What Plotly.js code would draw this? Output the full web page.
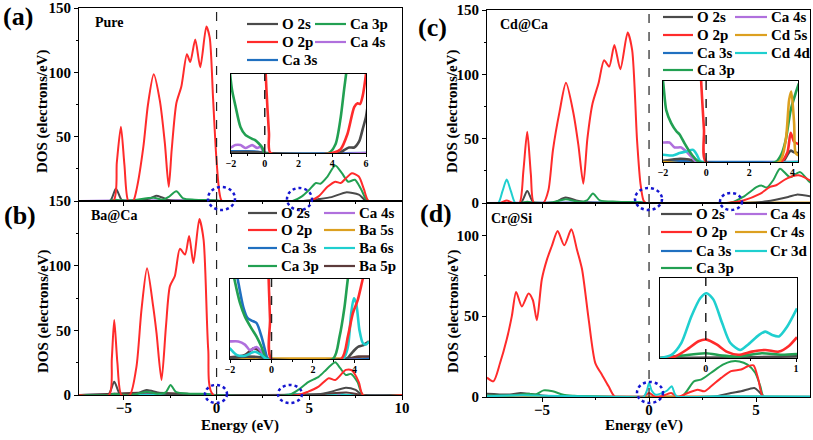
<!DOCTYPE html>
<html><head><meta charset="utf-8">
<script src="https://cdn.plot.ly/plotly-3.0.1.min.js"></script>
<style>html,body{margin:0;padding:0;background:#fff}#g{width:813px;height:440px}</style>
</head><body><div id="g"></div>
<script>
// ---------------- DATA ----------------
// Panel (a) Pure, main
const aE_O2p = [-7.42,-5.57,-5.38,-5.16,-4.97,-4.76,-4.5,-4.3,-3.95,-3.7,-3.39,-3.06,-2.79,-2.58,-2.42,-2.17,-1.9,-1.6,-1.42,-1.15,-0.88,-0.55,-0.37,-0.19,-0.02,0.16,0.3,5.0,5.5,5.98,6.4,6.7,7.0,7.3,7.67,7.95,8.2,10];
const aD_O2p = [0,0,30,57.7,28,0,0,10,42,75,98.5,78,45,11,40,76,89,114,108,125.5,104,135.6,127,80,35,6,0,0,3.6,11,15,14,18,21.6,19,9,0,0];
const aE_Ca3p = [-7.42,-5.8,-5.5,-5.2,-4.6,-3.4,-2.9,-2.6,-2.17,-1.8,-1.2,0,0.3,4.1,4.6,5.0,5.36,5.6,5.98,6.4,6.76,7.1,7.46,7.8,8.15,10];
const aD_Ca3p = [0,0,1,0.5,0.5,2.5,1,3,7.5,2,1,0.5,0,0,3.6,8.8,14,13.4,19,27.6,21.6,15,16.5,9,0,0];
const aE_O2s = [-7.42,-5.75,-5.43,-5.1,-4.6,-3.6,-3.26,-2.9,-2.5,0,4.5,5.5,6.2,6.97,7.67,8.1,10];
const aD_O2s = [0,0,9.5,0.5,0,2,4,2.5,0.5,0,0,1.5,3,6.7,5,0,0];
const aE_Ca4s = [-7.42,-5.5,-2,-1.5,-0.8,-0.3,0,10];
const aD_Ca4s = [0,0.3,0.5,0.7,0.5,0.4,0,0];
const aE_Ca3s = [-7.42,-2,-0.5,0,10];
const aD_Ca3s = [0,0.2,0.2,0,0];
// Panel (a) inset
const iaE_Ca3p = [-2.2,-1.94,-1.74,-1.44,-1.15,-0.75,-0.55,-0.35,-0.15,0,3.8,4.2,4.5,4.7,4.85,5.0];
const iaD_Ca3p = [1.3,0.8,0.6,0.33,0.23,0.18,0.16,0.12,0.07,0,0,0.115,0.45,0.8,1.05,1.4];
const iaE_Ca4s = [-2.1,-2,-1.74,-1.44,-1.15,-0.75,-0.45,-0.25,0,6.1];
const iaD_Ca4s = [0.07,0.07,0.1,0.1,0.064,0.1,0.064,0.08,0,0];
const iaE_O2p = [-0.3,-0.1,0.0,0.1,0.25,0.34,4.0,4.5,4.9,5.3,5.5,5.65,5.8,6.0,6.1];
const iaD_O2p = [3,1.8,1.3,0.8,0.25,0,0,0.05,0.24,0.58,0.63,0.62,0.72,1.0,1.2];
const iaE_O2s = [-2.1,-0.5,0,4.4,4.8,5.0,5.3,5.6,5.8,6.0,6.1];
const iaD_O2s = [0.01,0.01,0,0,0.05,0.07,0.07,0.15,0.3,0.46,0.6];
const iaE_Ca3s = [-2.1,-1,-0.4,0,6.1];
const iaD_Ca3s = [0.02,0.02,0.015,0,0];

// Panel (b) Ba@Ca, main
const bE_O2p = [-7.42,-5.8,-5.65,-5.52,-5.35,-5.13,-4.68,-4.32,-4.05,-3.75,-3.42,-3.24,-2.97,-2.73,-2.52,-2.25,-1.98,-1.7,-1.48,-1.25,-0.93,-0.7,-0.45,-0.18,4.4,4.94,5.5,6.05,6.4,6.97,7.3,7.67,7.9,10];
const bD_O2p = [0,0,28,58,25,0,0,22,66,98,68.5,48,11.6,53,84,92,113,108.6,123,102,136,120,35,0,0,2.6,6.5,13,11.6,19.4,19,10,0,0];
const bE_Ca3p = [-7.42,-5.8,-5.52,-5.2,-4.5,-3.77,-3.2,-2.75,-2.48,-2.2,-1.5,-0.5,-0.2,3.9,4.4,4.94,5.5,5.9,6.15,6.4,6.67,6.97,7.24,7.6,7.9,10];
const bD_Ca3p = [0,0,1,0.3,0.3,2.5,1,2,7.8,2.5,1,0.8,0,0,3.9,10,14,19.4,22.8,25.3,20.7,15.5,16.3,10,0,0];
const bE_O2s = [-7.42,-5.85,-5.52,-5.2,-4.5,-3.77,-3.2,-2.5,0,4.6,5.5,6.2,6.97,7.5,7.85,10];
const bD_O2s = [0,0,10.3,0.5,0,3.9,2,0.5,0,0,0.5,2.6,5.7,3.9,0,0];
const bE_Ba5p = [-7.42,-5.52,-3.8,-1,0,5.5,7,7.9,10];
const bD_Ba5p = [0,1,2,0.5,0,0.5,2,0,0];
const bE_Ba6s = [-7.42,-1.5,-0.5,0,3.5,4.2,4.8,6.3,6.6,6.9,10];
const bD_Ba6s = [0,0.3,0.5,0,0,0.8,0.3,0.4,1.5,0.3,0];
const bE_Ca4s = [-7.42,-2,-1,-0.3,0,10];
const bD_Ca4s = [0,0.5,0.6,0.3,0,0];
const bE_Ca3s = [-7.42,-2,-1,-0.3,0,10];
const bD_Ca3s = [0,0.8,0.7,0.3,0,0];
const bE_Ba5s = [-7.42,10];
const bD_Ba5s = [0,0];
// Panel (b) inset
const ibE_Ca3p = [-2.1,-1.79,-1.52,-1.28,-0.96,-0.72,-0.48,-0.29,-0.19,2.96,3.28,3.52,3.68,3.84];
const ibD_Ca3p = [1.4,1.0,0.7,0.53,0.38,0.28,0.15,0.02,0,0,0.28,0.65,1.0,1.25];
const ibE_Ca3s = [-2.1,-1.63,-1.36,-1.15,-0.96,-0.72,-0.48,-0.29,-0.16,4.7];
const ibD_Ca3s = [1.6,1.0,0.65,0.51,0.48,0.45,0.28,0.09,0,0];
const ibE_Ca4s = [-2.1,-2,-1.6,-1.28,-1.04,-0.72,-0.48,-0.24,4.7];
const ibD_Ca4s = [0.22,0.22,0.22,0.18,0.11,0.15,0.09,0,0];
const ibE_Ba6s = [-2.1,-2,-1.68,-1.28,-0.8,-0.48,-0.24,3.44,3.68,3.84,3.97,4.08,4.24,4.4,4.56,4.7];
const ibD_Ba6s = [0.15,0.13,0.05,0.04,0.09,0.05,0,0,0.15,0.57,0.76,0.7,0.36,0.2,0.18,0.22];
const ibE_Ba5p = [-2.1,-2,-1.28,-0.88,-0.64,-0.32,3.6,4.2,4.7];
const ibD_Ba5p = [0.02,0.02,0.05,0.13,0.11,0,0,0.03,0.03];
const ibE_O2s = [-2.1,-1.2,-0.5,-0.2,3.6,3.92,4.16,4.4,4.7];
const ibD_O2s = [0.01,0.03,0.02,0,0,0.09,0.15,0.17,0.22];
const ibE_O2p = [-0.3,-0.15,-0.07,0,3.36,3.68,3.92,4.16,4.4,4.56];
const ibD_O2p = [3,1.1,0.5,0,0,0.28,0.57,0.74,1.0,1.15];
const ibE_Ba5s = [-2.1,4.7];
const ibD_Ba5s = [0.005,0.005];

// Panel (c) Cd@Ca, main
const cE_O2p = [-7.57,-6.95,-6.65,-6.35,-6.05,-5.87,-5.69,-5.52,-5.38,-4.94,-4.7,-4.49,-4.18,-3.88,-3.53,-3.3,-3.07,-2.88,-2.64,-2.36,-2.1,-1.86,-1.62,-1.34,-1.0,-0.79,-0.56,-0.4,-0.26,-0.15,3.6,4.4,5.18,5.65,5.96,6.43,6.98,7.37,7.7];
const cD_O2p = [0,0,2,0,0,25,55.3,22,0,0,10,41,71,93.4,69.6,45,15,50,77.3,93,111,106,122.8,104,132.6,119,48.8,15,2,0,0,2,7,12.5,14,19,21.5,19,15.6];
const cE_Ca3p = [-7.57,-6.0,-5.69,-5.4,-4.5,-3.9,-3.3,-2.9,-2.62,-2.3,-1.5,-0.4,-0.1,3.79,4.4,5.04,5.27,5.5,5.8,6.12,6.59,7.06,7.5,7.7];
const cD_Ca3p = [0,0,1,0.3,0.5,3,1,2,7.3,2,1,0.5,0,0,4.7,12.5,13.5,12,17.7,26.7,20,24,16.3,15];
const cE_O2s = [-7.57,-6.0,-5.69,-5.4,-4.5,-3.9,-3.4,-2.8,0,4.5,5.5,6.5,6.9,7.7];
const cD_O2s = [0,0,9.3,0.5,0,4.2,2,0.3,0,0,1.3,4.7,6.5,4.7];
const cE_Cd4d = [-7.57,-7.05,-6.85,-6.65,-6.45,-6.25,-6.0,-1.2,-0.6,0,7.7];
const cD_Cd4d = [0,0,9,18.2,9,0,0,0.4,0.8,0,0];
const cE_Ca4s = [-7.57,-2,-1,-0.4,0,7.7];
const cD_Ca4s = [0,0.6,0.6,0.3,0,0];
const cE_Cd5s = [-7.57,3.7,4.0,4.5,7.7];
const cD_Cd5s = [0,0,0.9,0.4,0.5];
const cE_Ca3s = [-7.57,-1,0,7.7];
const cD_Ca3s = [0,0.2,0,0];
// Panel (c) inset
const icE_Ca3p = [-2.2,-2.0,-1.85,-1.62,-1.38,-1.23,-1.0,-0.77,-0.54,-0.31,3.23,3.5,3.69,3.92,4.15,4.3];
const icD_Ca3p = [1.3,1.0,0.64,0.48,0.38,0.34,0.23,0.13,0.05,0,0,0.1,0.27,0.64,0.85,0.97];
const icE_Ca4s = [-2.1,-2,-1.7,-1.46,-1.15,-0.92,-0.7,-0.43,4.3];
const icD_Ca4s = [0.24,0.24,0.24,0.18,0.18,0.13,0.07,0,0];
const icE_Cd4d = [-2.1,-2,-1.54,-1.23,-0.92,-0.6,-0.43,-0.23,4.3];
const icD_Cd4d = [0.09,0.09,0.08,0.11,0.13,0.15,0.09,0,0];
const icE_O2s = [-2.1,-1.2,-0.8,-0.4,3.54,3.77,3.92,4.08,4.3];
const icD_O2s = [0.01,0.04,0.03,0,0,0.09,0.14,0.12,0.11];
const icE_O2p = [-0.5,-0.23,-0.1,0,3.46,3.77,3.92,4.08,4.3];
const icD_O2p = [3,1.0,0.4,0,0,0.12,0.36,0.25,0.22];
const icE_Cd5s = [-2.1,3.38,3.69,3.85,3.95,4.08,4.15,4.3];
const icD_Cd5s = [0,0,0.27,0.77,0.87,0.48,0.11,0.08];
const icE_Ca3s = [-2.1,-1,0,4.3];
const icD_Ca3s = [0.01,0.01,0,0];

// Panel (d) Cr@Si, main
const dE_O2p = [-7.57,-7.27,-6.96,-6.65,-6.41,-6.21,-5.94,-5.63,-5.43,-5.24,-5.01,-4.77,-4.54,-4.27,-3.96,-3.63,-3.37,-3.13,-2.82,-2.51,-2.2,-1.89,-1.58,-0.3,0.0,0.3,0.6,1.03,1.34,1.81,2.27,2.58,2.9,3.37,3.83,4.3,4.61,4.88,5.11,5.35,7.6];
const dD_O2p = [12,9.7,21,35.5,50,65,56,64,60,47.5,72.7,85,93.4,102.7,93.8,103.7,91.3,79,48,21,13.8,6.6,0,0,2.5,0,0.5,2.5,0,2.5,4.5,3.5,6.6,11.8,16,17,19,19.6,10.7,0,0];
const dE_Ca3p = [-7.57,-6.5,-6.0,-5.6,-5.3,-4.93,-4.5,-4.0,-3.5,-2.5,-1.5,1.5,2.1,2.42,2.9,3.45,3.83,4.22,4.6,4.96,5.2,5.37,7.6];
const dD_Ca3p = [1,1,1.5,2,1.5,4.1,3.5,1.4,0.8,0.3,0,0,9.7,10.7,15,20,22,22,20,15,6.6,0,0];
const dE_O2s = [-7.57,-6.5,-6.0,-5.5,-5.0,-4.0,2.9,3.83,4.3,4.92,5.16,5.39,7.6];
const dD_O2s = [2,1.5,2.5,1.8,1,0.3,0,2.5,3.5,5.6,3,0,0];
const dE_Cr3d = [-7.57,-6.2,-5.6,-1.0,-0.26,-0.1,0.0,0.12,0.31,0.62,0.85,1.06,1.2,1.3,3,5,7.6];
const dD_Cr3d = [0.5,1,1,0,0,4,8.7,4,1.4,2.5,4,6.6,2,0.4,0.4,0.4,0.3];
const dE_Cr4s = [-7.57,-6,-5,0,1,7.6];
const dD_Cr4s = [0.3,0.8,0.5,0.2,0.3,0.2];
const dE_Ca4s = [-7.57,-5,0,7.6];
const dD_Ca4s = [0.2,0.3,0.1,0.1];
const dE_Ca3s = [-7.57,-5,0,7.6];
const dD_Ca3s = [0.2,0.5,0.1,0];
// Panel (d) inset
const idE_Cr3d = [-0.51,-0.38,-0.27,-0.16,-0.06,0.01,0.085,0.18,0.27,0.38,0.47,0.59,0.66,0.73,0.81,0.9,1.01];
const idD_Cr3d = [0,0.04,0.19,0.52,0.75,0.81,0.73,0.44,0.19,0.10,0.17,0.29,0.33,0.29,0.27,0.39,0.62];
const idE_O2p = [-0.51,-0.34,-0.19,-0.08,0.01,0.12,0.23,0.36,0.51,0.66,0.81,0.92,1.01];
const idD_O2p = [0,0.02,0.12,0.21,0.23,0.17,0.08,0.04,0.08,0.10,0.08,0.15,0.26];
const idE_Ca3p = [-0.51,-0.27,0.0,0.18,0.36,0.62,0.84,1.01];
const idD_Ca3p = [0,0.03,0.06,0.03,0.02,0.06,0.04,0.05];
const idE_O2s = [-0.51,0.5,1.01];
const idD_O2s = [0,0.01,0.02];

// Legends
const legA_names = ['O 2s','O 2p','Ca 3s','Ca 3p','Ca 4s'];
const legB_names = ['O 2s','O 2p','Ca 3s','Ca 3p','Ca 4s','Ba 5s','Ba 6s','Ba 5p'];
const legC_names = ['O 2s','O 2p','Ca 3s','Ca 3p','Ca 4s','Cd 5s','Cd 4d'];
const legD_names = ['O 2s','O 2p','Ca 3s','Ca 3p','Ca 4s','Cr 4s','Cr 3d'];
const panelNames = ['Pure','Ba@Ca','Cd@Ca','Cr@Si'];
const panelLetters = ['(a)','(b)','(c)','(d)'];

// ---------------- STYLE ----------------
const C = {O2s:'#4a4a4a', O2p:'#ff2b2b', Ca3s:'#2070c0', Ca3p:'#22a052', Ca4s:'#b070dd', Or:'#dca020', Cy:'#1fcfcf', Br:'#5c3b3b'};
const legA_colors = [C.O2s,C.O2p,C.Ca3s,C.Ca3p,C.Ca4s];
const legB_colors = [C.O2s,C.O2p,C.Ca3s,C.Ca3p,C.Ca4s,C.Or,C.Cy,C.Br];
const legC_colors = [C.O2s,C.O2p,C.Ca3s,C.Ca3p,C.Ca4s,C.Or,C.Cy];
const legD_colors = legC_colors;
const FONT = 'Liberation Serif';
const W = 813, H = 440;
const px = v => v / W, py = v => 1 - v / H;

function ln(x, y, color, ax, w) {
  return {type:'scatter', mode:'lines', x:x, y:y, xaxis:'x'+ax, yaxis:'y'+ax,
    line:{color:color, width:w, shape:'spline', smoothing:0.7}, hoverinfo:'skip', showlegend:false};
}
const MW = 2, IW = 2.6;
const traces = [
  ln(aE_Ca3s,aD_Ca3s,C.Ca3s,'',MW), ln(aE_Ca4s,aD_Ca4s,C.Ca4s,'',MW), ln(aE_O2s,aD_O2s,C.O2s,'',MW),
  ln(aE_Ca3p,aD_Ca3p,C.Ca3p,'',MW), ln(aE_O2p,aD_O2p,C.O2p,'',MW),
  ln(bE_Ba5s,bD_Ba5s,C.Or,'2',MW), ln(bE_Ca3s,bD_Ca3s,C.Ca3s,'2',MW), ln(bE_Ca4s,bD_Ca4s,C.Ca4s,'2',MW),
  ln(bE_Ba6s,bD_Ba6s,C.Cy,'2',MW), ln(bE_Ba5p,bD_Ba5p,C.Br,'2',MW), ln(bE_O2s,bD_O2s,C.O2s,'2',MW),
  ln(bE_Ca3p,bD_Ca3p,C.Ca3p,'2',MW), ln(bE_O2p,bD_O2p,C.O2p,'2',MW),
  ln(cE_Ca3s,cD_Ca3s,C.Ca3s,'3',MW), ln(cE_Ca4s,cD_Ca4s,C.Ca4s,'3',MW), ln(cE_Cd5s,cD_Cd5s,C.Or,'3',MW),
  ln(cE_Cd4d,cD_Cd4d,C.Cy,'3',MW), ln(cE_O2s,cD_O2s,C.O2s,'3',MW), ln(cE_Ca3p,cD_Ca3p,C.Ca3p,'3',MW),
  ln(cE_O2p,cD_O2p,C.O2p,'3',MW),
  ln(dE_Ca3s,dD_Ca3s,C.Ca3s,'4',MW), ln(dE_Ca4s,dD_Ca4s,C.Ca4s,'4',MW), ln(dE_Cr4s,dD_Cr4s,C.Or,'4',MW),
  ln(dE_O2s,dD_O2s,C.O2s,'4',MW), ln(dE_Ca3p,dD_Ca3p,C.Ca3p,'4',MW), ln(dE_O2p,dD_O2p,C.O2p,'4',MW),
  ln(dE_Cr3d,dD_Cr3d,C.Cy,'4',MW),
  // insets
  ln(iaE_Ca3s,iaD_Ca3s,C.Ca3s,'5',IW), ln(iaE_Ca4s,iaD_Ca4s,C.Ca4s,'5',IW), ln(iaE_O2s,iaD_O2s,C.O2s,'5',IW),
  ln(iaE_Ca3p,iaD_Ca3p,C.Ca3p,'5',IW), ln(iaE_O2p,iaD_O2p,C.O2p,'5',IW),
  ln(ibE_Ba5s,ibD_Ba5s,C.Or,'6',IW), ln(ibE_Ba5p,ibD_Ba5p,C.Br,'6',IW), ln(ibE_Ca4s,ibD_Ca4s,C.Ca4s,'6',IW),
  ln(ibE_O2s,ibD_O2s,C.O2s,'6',IW), ln(ibE_Ca3s,ibD_Ca3s,C.Ca3s,'6',IW), ln(ibE_Ca3p,ibD_Ca3p,C.Ca3p,'6',IW),
  ln(ibE_Ba6s,ibD_Ba6s,C.Cy,'6',IW), ln(ibE_O2p,ibD_O2p,C.O2p,'6',IW),
  ln(icE_Ca3s,icD_Ca3s,C.Ca3s,'7',IW), ln(icE_O2s,icD_O2s,C.O2s,'7',IW), ln(icE_Ca4s,icD_Ca4s,C.Ca4s,'7',IW),
  ln(icE_Cd4d,icD_Cd4d,C.Cy,'7',IW), ln(icE_Ca3p,icD_Ca3p,C.Ca3p,'7',IW), ln(icE_O2p,icD_O2p,C.O2p,'7',IW),
  ln(icE_Cd5s,icD_Cd5s,C.Or,'7',IW),
  ln(idE_O2s,idD_O2s,C.O2s,'8',IW), ln(idE_Ca3p,idD_Ca3p,C.Ca3p,'8',IW), ln(idE_O2p,idD_O2p,C.O2p,'8',IW),
  ln(idE_Cr3d,idD_Cr3d,C.Cy,'8',IW)
];

// ---------------- LAYOUT ----------------
const tickFont = {family:FONT, size:15, color:'#000', weight:'bold'};
const insetFont = {family:FONT, size:10, color:'#000', weight:'bold'};
function xax(x0,x1,anchor,range,tv,minor,labels,font){
  const inset = font===insetFont;
  return {domain:[px(x0),px(x1)], anchor:anchor, range:range, showline:true, mirror:true, linecolor:'#000', linewidth:1,
    ticks:'outside', ticklen:inset?3:4, tickcolor:'#000', tickvals:tv, showticklabels:labels, tickfont:font,
    ticklabelstandoff: inset?-2:-5,
    minor:{tickvals:minor, ticks:'outside', ticklen:2, tickcolor:'#000'}, showgrid:false, zeroline:false, fixedrange:true};
}
function yax(y0,y1,anchor,range,tv,minor,labels){
  return {domain:[py(y1),py(y0)], anchor:anchor, range:range, showline:true, mirror:true, linecolor:'#000', linewidth:1,
    ticks: tv.length?'outside':'', ticklen:4, tickcolor:'#000', tickvals:tv, showticklabels:labels, tickfont:tickFont,
    minor:{tickvals:minor, ticks: minor.length?'outside':'', ticklen:2, tickcolor:'#000'}, showgrid:false, zeroline:false, fixedrange:true};
}
const rAB = [-7.42,10], rCD = [-7.57,7.52];
const layout = {
  width:W, height:H, margin:{l:0,r:0,t:0,b:0}, paper_bgcolor:'#fff', plot_bgcolor:'#fff', showlegend:false,
  xaxis: xax(79,402,'y',rAB,[-5,0,5,10],[-2.5,2.5,7.5],false,tickFont),
  yaxis: yax(8,201,'x',[0,150],[50,100,150],[25,75,125],true),
  xaxis2: xax(79,402,'y2',rAB,[-5,0,5,10],[-2.5,2.5,7.5],true,tickFont),
  yaxis2: yax(201,395,'x2',[0,150],[0,50,100,150],[25,75,125],true),
  xaxis3: xax(487,810,'y3',rCD,[-5,0,5],[-2.5,2.5],false,tickFont),
  yaxis3: yax(10,203,'x3',[0,150],[0,50,100,150],[25,75,125],true),
  xaxis4: xax(487,810,'y4',rCD,[-5,0,5],[-2.5,2.5],true,tickFont),
  yaxis4: yax(203,397,'x4',[0,120],[0,50,100],[25,75],true),
  xaxis5: xax(231,366,'y5',[-2,6],[-2,0,2,4,6],[-1,1,3,5],true,insetFont),
  yaxis5: yax(74,153,'x5',[0,1],[],[],false),
  xaxis6: xax(230,369,'y6',[-2,4.7],[-2,0,2,4],[-1,1,3],true,insetFont),
  yaxis6: yax(279,359,'x6',[0,1],[],[],false),
  xaxis7: xax(663,798,'y7',[-2,4.26],[-2,0,2,4],[-1,1,3],true,insetFont),
  yaxis7: yax(81,162,'x7',[0,1],[],[],false),
  xaxis8: xax(660,797,'y8',[-0.507,1.01],[0,1],[0.5],true,insetFont),
  yaxis8: yax(278,358,'x8',[0,1],[],[],false),
  shapes:[], annotations:[]
};

// Fermi-level dashed lines
['','2','3','4','5','6','7','8'].forEach(a=>{
  layout.shapes.push({type:'line', xref:'x'+a, yref:'y'+a+' domain', x0:0, x1:0, y0:0, y1:1,
    line:{color:'#222', width:a>='5'?1.5:1.2, dash:'dash'}, layer:'above'});
});
// Blue dotted circles (px boxes)
const circles = [[208,187,235,210],[287,188,312,210],[205,385,227,403],[278,385,302,403],[635,188,662,210],[720,193,742,210],[637,382,663,403]];
circles.forEach(c=>layout.shapes.push({type:'circle', xref:'paper', yref:'paper', x0:px(c[0]), x1:px(c[2]), y0:py(c[3]), y1:py(c[1]),
  line:{color:'#1515d0', width:2.5, dash:'dot'}, layer:'above'}));

// Legends
function legend(names, colors, rows, col1, col2, nrow){
  names.forEach((n,i)=>{
    const col = i < nrow ? col1 : col2;
    const r = rows[i < nrow ? i : i - nrow];
    layout.shapes.push({type:'line', xref:'paper', yref:'paper', x0:px(col[0]), x1:px(col[1]), y0:py(r), y1:py(r),
      line:{color:colors[i], width:2.2}});
    layout.annotations.push({xref:'paper', yref:'paper', x:px(col[2]), y:py(r), text:n, showarrow:false,
      xanchor:'left', yanchor:'middle', font:{family:FONT, size:15, color:'#000', weight:'bold'}});
  });
}
legend(legA_names, legA_colors, [24,42,60], [247,278,280], [315,346,348], 3);
legend(legB_names, legB_colors, [213,230,248,266], [248,277,279], [324,355,357], 4);
legend(legC_names, legC_colors, [17,35,53,70], [663,693,695], [735,767,769], 4);
legend(legD_names, legD_colors, [214,232,251,268], [661,692,694], [735,767,768], 4);

// Panel letters and names
const letterPos = [[18,16],[20,215],[432,27],[436,213]];
panelLetters.forEach((t,i)=>layout.annotations.push({xref:'paper', yref:'paper', x:px(letterPos[i][0]), y:py(letterPos[i][1]),
  text:t, showarrow:false, xanchor:'center', yanchor:'middle', font:{family:FONT, size:26, color:'#000', weight:'bold'}}));
const namePos = [[93,23],[89,215],[498,25],[489,218]];
panelNames.forEach((t,i)=>layout.annotations.push({xref:'paper', yref:'paper', x:px(namePos[i][0]), y:py(namePos[i][1]),
  text:t, showarrow:false, xanchor:'left', yanchor:'middle', font:{family:FONT, size:14, color:'#000', weight:'bold'}}));
// Axis titles
[[43,112],[43,312],[453,112],[453,312]].forEach(p=>layout.annotations.push({xref:'paper', yref:'paper', x:px(p[0]), y:py(p[1]),
  text:'DOS (electrons/eV)', textangle:-90, showarrow:false, xanchor:'center', yanchor:'middle',
  font:{family:FONT, size:15, color:'#000', weight:'bold'}}));
[[240,425],[644,425]].forEach(p=>layout.annotations.push({xref:'paper', yref:'paper', x:px(p[0]), y:py(p[1]),
  text:'Energy (eV)', showarrow:false, xanchor:'center', yanchor:'middle', font:{family:FONT, size:15, color:'#000', weight:'bold'}}));

Plotly.newPlot('g', traces, layout, {staticPlot:true, displayModeBar:false});
</script></body></html>
